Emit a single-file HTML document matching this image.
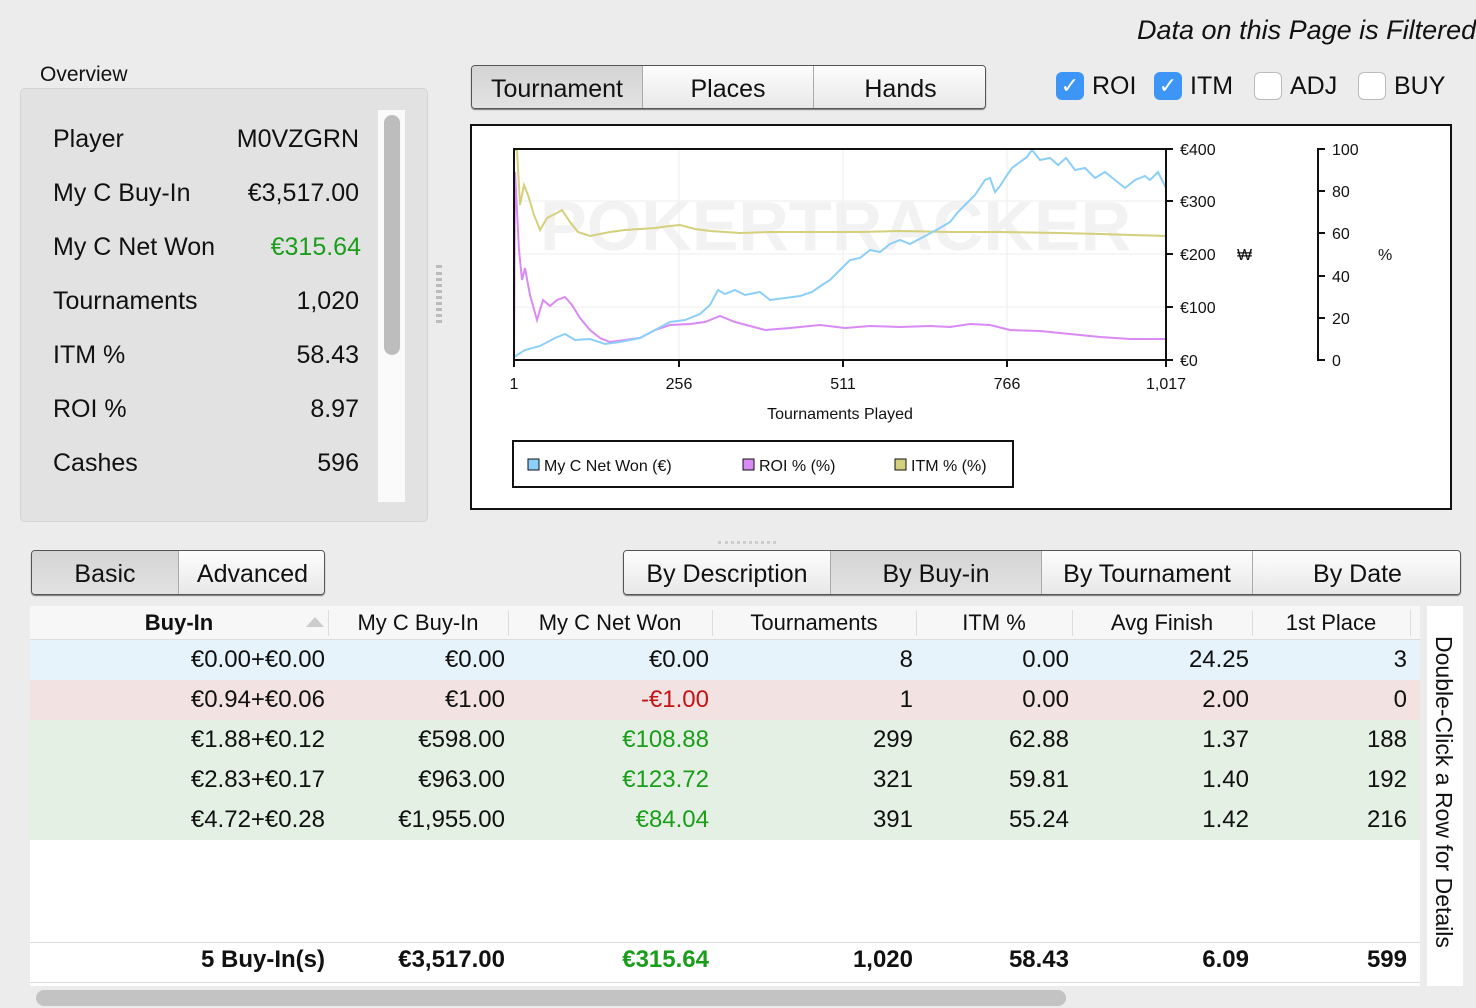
<!DOCTYPE html>
<html><head><meta charset="utf-8"><style>
*{box-sizing:border-box;margin:0;padding:0}
body{width:1476px;height:1008px;overflow:hidden;background:#ececec;font-family:"Liberation Sans",sans-serif;color:#111;position:relative}
.a{position:absolute}
.t{font-size:25px;white-space:nowrap}
.tab{position:absolute;top:0;height:100%;border-right:1px solid #aaa;text-align:center;font-size:25px;line-height:46px;background:linear-gradient(#fdfdfd,#e8e8e8)}
.tab.s{background:linear-gradient(#d4d4d4,#e2e2e2)}
.tabs{position:absolute;border:1px solid #555;border-radius:4px;overflow:hidden;box-shadow:0 1px 1px #777}
.cb{position:absolute;width:28px;height:28px;border-radius:6px;top:72px}
.cb.on{background:#3d95f5;color:#fff;font-size:22px;text-align:center;line-height:28px}
.cb.off{background:#fff;border:1px solid #bbb}
.row{position:absolute;left:30px;width:1390px;height:40px}
.c{position:absolute;font-size:24px;text-align:right;line-height:40px;white-space:nowrap}
.h{position:absolute;font-size:22px;text-align:center;line-height:34px}
</style></head><body>
<div class="a t" style="left:1137px;top:15px;font-style:italic;font-size:27px">Data on this Page is Filtered</div>
<div class="a" style="left:40px;top:63px;font-size:21px">Overview</div>
<div class="a" style="left:20px;top:88px;width:408px;height:434px;background:#e2e2e2;border:1px solid #d4d4d4;border-radius:5px"></div>
<div class="a" style="left:378px;top:110px;width:27px;height:392px;background:#fafafa"></div>
<div class="a" style="left:384px;top:115px;width:16px;height:240px;background:#bdbdbd;border-radius:8px"></div>
<div class="a" style="left:436px;top:265px;width:6px;height:58px;border-left:3px dotted #bbb;border-right:3px dotted #bbb"></div>
<div class="a t" style="left:53px;top:125px">Player</div><div class="a t" style="right:1117px;top:125px">M0VZGRN</div>
<div class="a t" style="left:53px;top:179px">My C Buy-In</div><div class="a t" style="right:1117px;top:179px">€3,517.00</div>
<div class="a t" style="left:53px;top:233px">My C Net Won</div><div class="a t" style="right:1115px;top:233px;color:#1a9e1a">€315.64</div>
<div class="a t" style="left:53px;top:287px">Tournaments</div><div class="a t" style="right:1117px;top:287px">1,020</div>
<div class="a t" style="left:53px;top:341px">ITM %</div><div class="a t" style="right:1117px;top:341px">58.43</div>
<div class="a t" style="left:53px;top:395px">ROI %</div><div class="a t" style="right:1117px;top:395px">8.97</div>
<div class="a t" style="left:53px;top:449px">Cashes</div><div class="a t" style="right:1117px;top:449px">596</div>

<div class="tabs" style="left:471px;top:65px;width:515px;height:44px">
<div class="tab s" style="left:0;width:171px">Tournament</div><div class="tab" style="left:171px;width:171px">Places</div><div class="tab" style="left:342px;width:173px;border:0">Hands</div></div>
<div class="cb on" style="left:1056px">✓</div><div class="a t" style="left:1092px;top:72px">ROI</div>
<div class="cb on" style="left:1154px">✓</div><div class="a t" style="left:1190px;top:72px">ITM</div>
<div class="cb off" style="left:1254px"></div><div class="a t" style="left:1290px;top:72px">ADJ</div>
<div class="cb off" style="left:1358px"></div><div class="a t" style="left:1394px;top:72px">BUY</div>

<svg class="a" style="left:470px;top:124px" width="982" height="386" viewBox="470 124 982 386" font-family="Liberation Sans,sans-serif">
<rect x="471" y="125" width="980" height="384" fill="#fff" stroke="#111" stroke-width="2"/>
<text x="540" y="250" font-size="70" font-weight="bold" fill="#f2f2f2">POKERTRACKER</text>
<g stroke="#eee" stroke-width="1"><line x1="514" y1="201" x2="1166" y2="201"/><line x1="514" y1="254" x2="1166" y2="254"/><line x1="514" y1="307" x2="1166" y2="307"/><line x1="679" y1="149" x2="679" y2="360"/><line x1="843" y1="149" x2="843" y2="360"/><line x1="1007" y1="149" x2="1007" y2="360"/></g>
<polyline fill="none" stroke="#d4d07c" stroke-width="2" points="514,150 517,150 520,205 524,185 528,195 534,215 540,230 547,218 555,214 562,210 570,222 578,232 590,236 600,234 610,232 625,230 640,229 655,228 670,226 680,225 695,229 710,231 740,233 770,232 800,232 830,232 860,232 900,231 950,232 1000,232 1060,233 1100,234 1166,236"/>
<polyline fill="none" stroke="#d98af5" stroke-width="2" points="514,360 515,172 519,250 522,280 525,268 530,295 537,320 543,300 550,306 557,300 565,297 572,305 580,318 590,330 600,338 610,342 625,340 640,338 655,330 670,325 690,324 705,322 720,316 735,322 750,326 765,330 790,328 820,325 845,328 870,326 900,327 930,326 950,327 970,324 990,325 1010,330 1040,331 1070,334 1100,337 1130,339 1166,339"/>
<polyline fill="none" stroke="#8ccff8" stroke-width="2" points="514,357 525,350 540,346 555,338 565,334 575,340 590,339 605,344 620,342 640,338 655,330 670,322 685,320 700,314 710,305 718,290 725,294 735,290 745,295 760,292 770,300 785,298 800,296 812,292 822,285 830,280 840,270 850,260 860,258 870,250 880,252 890,244 900,240 910,244 925,236 940,228 950,222 958,212 965,205 975,195 985,180 990,178 995,192 1000,186 1005,178 1012,168 1020,162 1027,157 1032,150 1040,160 1050,158 1058,165 1066,158 1075,170 1085,168 1095,178 1105,172 1115,180 1125,188 1135,180 1145,176 1150,180 1158,172 1166,188"/>
<rect x="514" y="149" width="652" height="211" fill="none" stroke="#111" stroke-width="2"/>
<g stroke="#111" stroke-width="2"><line x1="1166" y1="149" x2="1173" y2="149"/><line x1="1166" y1="201" x2="1173" y2="201"/><line x1="1166" y1="254" x2="1173" y2="254"/><line x1="1166" y1="307" x2="1173" y2="307"/><line x1="1166" y1="360" x2="1173" y2="360"/>
<line x1="514" y1="360" x2="514" y2="367"/><line x1="679" y1="360" x2="679" y2="367"/><line x1="843" y1="360" x2="843" y2="367"/><line x1="1007" y1="360" x2="1007" y2="367"/><line x1="1166" y1="360" x2="1166" y2="367"/>
<polyline fill="none" points="1325,149 1318,149 1318,360 1325,360"/><line x1="1318" y1="191" x2="1325" y2="191"/><line x1="1318" y1="233" x2="1325" y2="233"/><line x1="1318" y1="276" x2="1325" y2="276"/><line x1="1318" y1="318" x2="1325" y2="318"/></g>
<g font-size="16" fill="#111"><text x="1180" y="155">€400</text><text x="1180" y="207">€300</text><text x="1180" y="260">€200</text><text x="1180" y="313">€100</text><text x="1180" y="366">€0</text><text x="1237" y="260">₩</text>
<text x="1332" y="155">100</text><text x="1332" y="197">80</text><text x="1332" y="239">60</text><text x="1332" y="282">40</text><text x="1332" y="324">20</text><text x="1332" y="366">0</text><text x="1378" y="260">%</text>
<g text-anchor="middle"><text x="514" y="389">1</text><text x="679" y="389">256</text><text x="843" y="389">511</text><text x="1007" y="389">766</text><text x="1166" y="389">1,017</text><text x="840" y="419">Tournaments Played</text></g></g>
<rect x="513" y="441" width="500" height="46" fill="#fff" stroke="#111" stroke-width="2"/>
<g font-size="16" fill="#111"><rect x="528" y="459" width="11" height="11" fill="#8ccff8" stroke="#111"/><text x="544" y="471">My C Net Won (€)</text>
<rect x="743" y="459" width="11" height="11" fill="#d98af5" stroke="#111"/><text x="759" y="471">ROI % (%)</text>
<rect x="895" y="459" width="11" height="11" fill="#d4d07c" stroke="#111"/><text x="911" y="471">ITM % (%)</text></g>
</svg>
<div class="a" style="left:718px;top:541px;width:58px;height:5px;border-top:3px dotted #ccc"></div>

<div class="tabs" style="left:31px;top:550px;width:294px;height:45px">
<div class="tab s" style="left:0;width:147px">Basic</div><div class="tab" style="left:147px;width:147px;border:0">Advanced</div></div>
<div class="tabs" style="left:623px;top:550px;width:838px;height:45px">
<div class="tab" style="left:0;width:207px">By Description</div><div class="tab s" style="left:207px;width:211px">By Buy-in</div><div class="tab" style="left:418px;width:211px">By Tournament</div><div class="tab" style="left:629px;width:209px;border:0">By Date</div></div>

<div class="a" style="left:30px;top:606px;width:1390px;height:380px;background:#fff"></div>
<div class="a" style="left:30px;top:606px;width:1390px;height:34px;background:#f7f7f7;border-bottom:1px solid #ddd"></div>
<div class="h" style="left:30px;top:606px;width:298px;font-weight:bold">Buy-In</div>
<div class="a" style="left:306px;top:617px;width:0;height:0;border-left:9px solid transparent;border-right:9px solid transparent;border-bottom:10px solid #ccc"></div>
<div class="h" style="left:328px;top:606px;width:180px">My C Buy-In</div>
<div class="h" style="left:508px;top:606px;width:204px">My C Net Won</div>
<div class="h" style="left:712px;top:606px;width:204px">Tournaments</div>
<div class="h" style="left:916px;top:606px;width:156px">ITM %</div>
<div class="h" style="left:1072px;top:606px;width:180px">Avg Finish</div>
<div class="h" style="left:1252px;top:606px;width:158px">1st Place</div>
<div class="row" style="top:640px;background:#e6f3fb"></div>
<div class="row" style="top:680px;background:#f3e2e2"></div>
<div class="row" style="top:720px;height:120px;background:#e4f0e4"></div>
<div class="a" style="left:30px;top:942px;width:1390px;height:1px;background:#ddd"></div>
<div class="a" style="left:30px;top:982px;width:1390px;height:1px;background:#ddd"></div>
<div id="cols"></div>
<div class="a" style="left:36px;top:990px;width:1030px;height:16px;background:#c3c3c3;border-radius:8px"></div>
<div class="a" style="left:1427px;top:606px;width:36px;height:380px;background:#fff"></div>
<div class="a" style="left:1430px;top:636px;font-size:23px;writing-mode:vertical-rl;white-space:nowrap">Double-Click a Row for Details</div>
<script>
var R=[328,508,712,916,1072,1252,1410];
var rows=[[640,["€0.00+€0.00","€0.00","€0.00","8","0.00","24.25","3"],""],
[680,["€0.94+€0.06","€1.00","-€1.00","1","0.00","2.00","0"],"#c41414"],
[720,["€1.88+€0.12","€598.00","€108.88","299","62.88","1.37","188"],"#1a9e1a"],
[760,["€2.83+€0.17","€963.00","€123.72","321","59.81","1.40","192"],"#1a9e1a"],
[800,["€4.72+€0.28","€1,955.00","€84.04","391","55.24","1.42","216"],"#1a9e1a"],
[940,["5 Buy-In(s)","€3,517.00","€315.64","1,020","58.43","6.09","599"],"#1a9e1a"]];
var h="";
rows.forEach(function(r,ri){r[1].forEach(function(v,i){var col=(i==2&&r[2])?r[2]:"#111";var b=ri==5?"font-weight:bold;":"";
h+='<div class="c" style="'+b+'top:'+r[0]+'px;right:'+(1476-R[i]+3)+'px;color:'+col+'">'+v+'</div>';});});
R.forEach(function(x){h+='<div class="a" style="left:'+x+'px;top:610px;width:1px;height:26px;background:#ddd"></div>';});
document.getElementById("cols").innerHTML=h;
</script>
</body></html>
